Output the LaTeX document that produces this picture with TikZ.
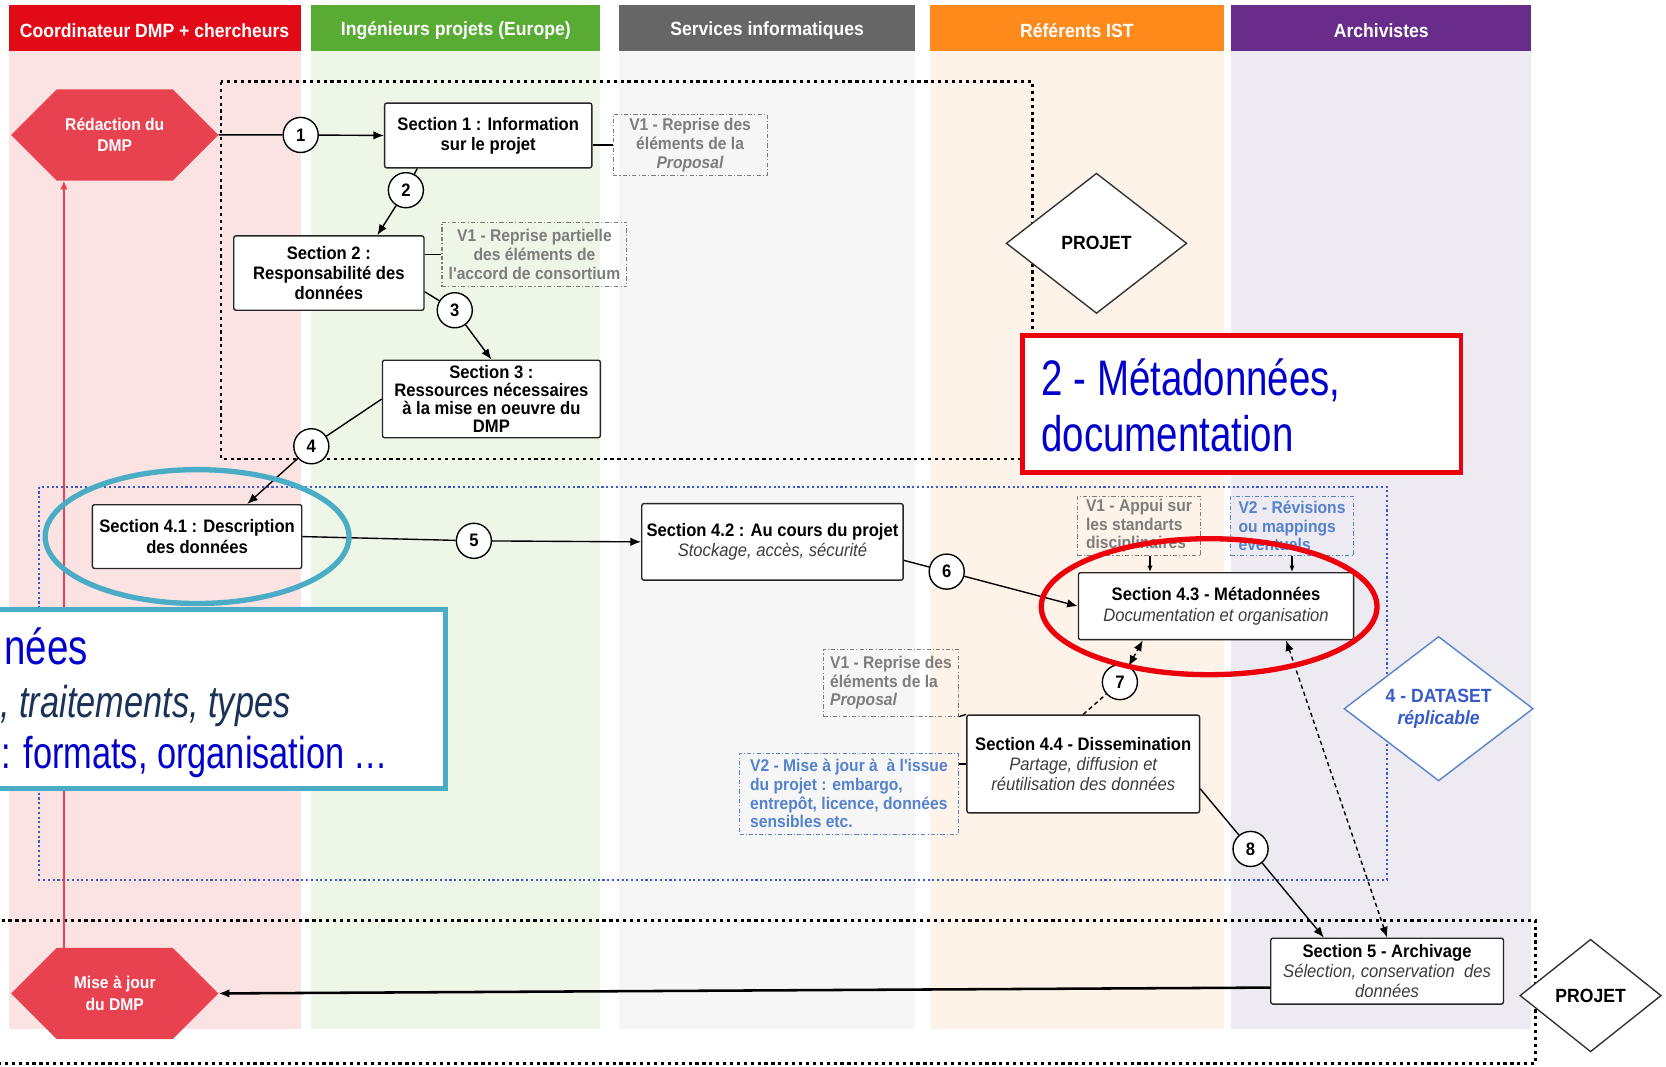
\documentclass[tikz,border=0pt]{standalone}
\usepackage{fontspec}
\setmainfont{Liberation Sans}
\newfontfamily\narrowfont[FakeStretch=0.92]{Liberation Sans}
\newfontfamily\condfont[FakeStretch=0.77]{Liberation Sans}
\usetikzlibrary{arrows.meta,shapes.geometric,shapes.symbols}

\definecolor{hdred}{RGB}{226,10,22}
\definecolor{hdgreen}{RGB}{88,172,52}
\definecolor{hdgray}{RGB}{102,102,102}
\definecolor{hdorange}{RGB}{255,138,28}
\definecolor{hdpurple}{RGB}{104,44,138}
\definecolor{bgred}{RGB}{251,227,227}
\definecolor{bggreen}{RGB}{238,246,231}
\definecolor{bggray}{RGB}{246,246,246}
\definecolor{bgorange}{RGB}{253,243,232}
\definecolor{bgpurple}{RGB}{238,234,242}
\definecolor{hexred}{RGB}{232,66,80}
\definecolor{notegray}{RGB}{125,125,125}
\definecolor{noteblue}{RGB}{85,130,205}
\definecolor{frameblue}{RGB}{55,90,205}
\definecolor{ringteal}{RGB}{75,172,198}
\definecolor{ringred}{RGB}{235,0,12}
\definecolor{titleblue}{RGB}{0,0,205}
\definecolor{navy}{RGB}{25,50,85}
\definecolor{subgray}{RGB}{60,60,60}

\newcommand{\subline}[1]{{\mdseries\itshape\color{subgray}#1}}

\begin{document}
\begin{tikzpicture}[x=1pt, y=-1pt, >={Latex[length=10pt,width=8pt]},
    every node/.style={inner sep=2pt},
    lanehead/.style={fill=#1, text=white, minimum height=43pt, inner sep=0pt,
        font=\narrowfont\bfseries\fontsize{18}{20}\selectfont},
    section/.style={draw=black!85, fill=white, rounded corners=2pt, line width=1.3pt, align=center,
        font=\narrowfont\bfseries\fontsize{17}{19}\selectfont},
    note/.style={draw=notegray, text=notegray, line width=1pt, align=left,
        dash pattern=on 4pt off 2pt on 1pt off 2pt,
        font=\narrowfont\bfseries\fontsize{16}{17.5}\selectfont},
    bluenote/.style={note, draw=noteblue, text=noteblue},
    num/.style={circle, draw, fill=white, line width=1.3pt, minimum size=33pt, inner sep=0pt,
        font=\narrowfont\bfseries\fontsize{17}{17}\selectfont},
    hexa/.style={signal, signal to=west and east, signal pointer angle=90, fill=hexred, text=white,
        minimum width=195pt, minimum height=86pt, align=center,
        font=\narrowfont\bfseries\fontsize{16}{20}\selectfont},
    projet/.style={diamond, draw=black!80, fill=white, line width=1.3pt, inner sep=0pt,
        font=\narrowfont\bfseries\fontsize{18}{20}\selectfont},
    wire/.style={line width=1.3pt},
    blackdots/.style={line width=2.8pt, dash pattern=on 3pt off 3.5pt},
    bluedots/.style={draw=frameblue, line width=2pt, dash pattern=on 2pt off 2.5pt},
    bigtext/.style={anchor=base west, inner sep=0pt, text=titleblue,
        font=\condfont\fontsize{47}{53}\selectfont}]

    \useasboundingbox (0,0) rectangle (1568,1004);
    \fill[white] (0,0) rectangle (1568,1004);

    \foreach \lane/\col/\xa/\xb/\title in {r/red/8/283/Coordinateur DMP + chercheurs,
            g/green/293/565/Ingénieurs projets (Europe), s/gray/583/861/Services informatiques,
            o/orange/875/1152/Référents IST, p/purple/1159/1441/Archivistes} {
        \fill[bg\col] (\xa,48) rectangle (\xb,968);
        \fill[hd\col] (\xa,5) rectangle (\xb,48);
        \node[lanehead=hd\col, minimum height=0pt] (h\lane) at ({(\xa+\xb)/2},28.5) {\title};
    }

    \draw[blackdots] (208,77) rectangle (972,432);
    \draw[bluedots] (37,458) rectangle (1305,828);
    \draw[blackdots] (-10,866) rectangle (1445,1001);

    \node[hexa] (redac) at (108,127) {Rédaction du\\DMP};
    \node[hexa] (maj) at (108,935) {Mise à jour\\du DMP};

    \node[section, minimum width=195pt, minimum height=61pt] (sec1) at (459.5,127.5) {Section 1 : Information\\sur le projet};
    \node[note, align=center, minimum width=145pt, minimum height=57pt] (rem1) at (649.5,136.5) {V1 - Reprise des\\éléments de la\\\textit{Proposal}};
    \node[section, minimum width=179pt, minimum height=70pt] (sec2) at (309.5,257) {Section 2 :\\Responsabilité des\\données};
    \node[note, align=center, minimum width=174pt, minimum height=61pt] (rem2) at (503,239.5) {V1 - Reprise partielle\\des éléments de\\l'accord de consortium};
    \node[section, minimum width=205pt, minimum height=73pt, font=\narrowfont\bfseries\fontsize{17}{17}\selectfont] (sec3) at (462.5,375.5) {Section 3 :\\Ressources nécessaires\\à la mise en oeuvre du\\DMP};
    \node[section, minimum width=197pt, minimum height=60pt] (sec41) at (185.5,505) {Section 4.1 : Description\\des données};
    \node[section, minimum width=246pt, minimum height=72pt] (sec42) at (727,510) {Section 4.2 : Au cours du projet\\\subline{Stockage, accès, sécurité}};
    \node[section, minimum width=259pt, minimum height=63pt] (sec43) at (1144.5,570.5) {Section 4.3 - Métadonnées\\\subline{Documentation et organisation}};
    \node[note, minimum width=116pt, minimum height=56pt] (rem43a) at (1072,495) {V1 - Appui sur\\les standarts\\disciplinaires};
    \node[bluenote, minimum width=116pt, minimum height=56pt] (rem43b) at (1216,495) {V2 - Révisions\\ou mappings\\éventuels};
    \node[note, minimum width=127pt, minimum height=63pt] (rem44a) at (838.5,642.5) {V1 - Reprise des\\éléments de la\\\textit{Proposal}};
    \node[bluenote, minimum width=206pt, minimum height=76pt] (rem44b) at (799,747) {V2 - Mise à jour à \ à l'issue\\du projet : embargo,\\entrepôt, licence, données\\sensibles etc.};
    \node[section, minimum width=219pt, minimum height=92pt] (sec44) at (1019.5,719) {Section 4.4 - Dissemination\\\subline{Partage, diffusion et}\\\subline{réutilisation des données}};
    \node[section, minimum width=219pt, minimum height=62pt] (sec5) at (1305.5,914) {Section 5 - Archivage\\\subline{Sélection, conservation \ des}\\\subline{données}};

    \node[projet, minimum width=170pt, minimum height=132pt] (proj1) at (1032,229) {PROJET};
    \node[projet, minimum width=133pt, minimum height=106pt] (proj2) at (1497,937) {PROJET};
    \node[projet, draw=noteblue, text=frameblue, align=center, minimum width=178pt, minimum height=128pt] (dataset) at (1354,667) {4 - DATASET\\\textit{réplicable}};

    \foreach \n/\x/\y in {1/283/127, 2/382/179, 3/428/292, 4/293/420, 5/446/509, 6/891/538, 7/1054/642, 8/1177/799}
        \node[num] (n\n) at (\x,\y) {\n};

    \foreach \from/\via/\to in {redac.east/n1/sec1.west, sec1.205/n2/sec2.38, sec2.-11/n3/sec3.north,
            sec3.west/n4/sec41.33, sec41.east/n5/sec42.west, sec42.-8/n6/sec43.west, sec44.-12/n8/sec5.152}
        \draw[wire, ->] (\from) -- (\via) -- (\to);
    \draw[wire, <->, dash pattern=on 4pt off 3pt] (sec44.north) -- (n7) -- (sec43.205);
    \draw[wire, <->, dash pattern=on 4pt off 3pt] (sec5.north) -- (sec43.-26);
    \draw[line width=2.4pt, ->] (sec5.188) -- (maj.east);
    \draw[hexred, line width=1.2pt, -{Latex[length=8pt,width=7pt]}] (maj.138) -- (maj.138 |- redac.south);

    \draw[wire] (sec1.east |- rem1.west) -- (rem1.west);
    \draw[wire] (rem2.west -| sec2.east) -- (rem2.west);
    \draw[wire, -{Latex[length=6pt,width=5pt]}] (rem43a.-70) -- (rem43a.-70 |- sec43.north);
    \draw[wire, -{Latex[length=6pt,width=5pt]}] (rem43b.south) -- (rem43b.south |- sec43.north);
    \draw[wire] (rem44a.south east) -- (sec44.north west);
    \draw[wire] (sec44.west -| rem44b.east) -- (sec44.west);

    \draw[ringteal, line width=5pt] (sec41) ellipse [x radius=143pt, y radius=63pt];
    \draw[ringred, line width=5pt] (1138,571) ellipse [x radius=158pt, y radius=64pt];

    \draw[ringteal, line width=4.5pt, fill=white] (-20,574) rectangle (419,742);
    \node[bigtext] (d1) at (4,625) {nées};
    \node[bigtext, text=navy, font=\condfont\itshape\fontsize{42}{42}\selectfont] (d2) at (0,675) {, traitements, types};
    \node[bigtext, font=\condfont\fontsize{42}{42}\selectfont] (d3) at (1,723) {: formats, organisation …};

    \draw[ringred, line width=4.5pt, fill=white] (962,316) rectangle (1375,445);
    \node[bigtext] (m1) at (980,372) {2 - Métadonnées,};
    \node[bigtext] (m2) at (980,425) {documentation};
\end{tikzpicture}
\end{document}
